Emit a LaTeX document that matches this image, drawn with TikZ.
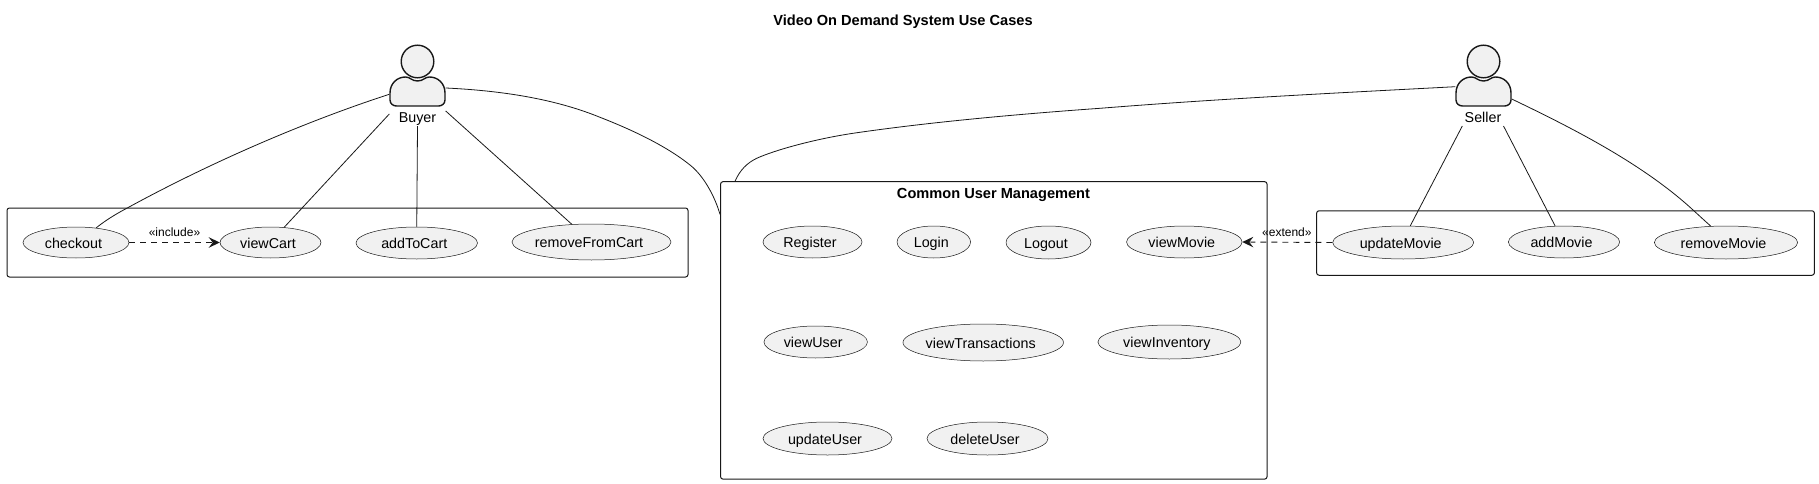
\documentclass[tikz,border=0pt]{standalone}
\usepackage{fontspec}
\setmainfont{Liberation Sans}
\usetikzlibrary{shapes.geometric,arrows.meta,calc}
\definecolor{ink}{HTML}{181818}
\definecolor{uc}{HTML}{F1F1F1}
\tikzset{
  x=1pt,y=-1pt,
  case/.style={ellipse,draw=ink,line width=0.5pt,fill=uc,inner sep=0pt,font=\fontsize{14.3}{14}\selectfont,text=black,text height=14.6pt,text depth=3pt},
  pack/.style={rectangle,draw=ink,line width=1pt,rounded corners=2.5pt,inner sep=0pt},
  holder/.style={rectangle,inner sep=0pt,minimum width=56pt,minimum height=81pt},
  link/.style={draw=ink,line width=0.8pt},
  dep/.style={draw=ink,line width=0.9pt,dash pattern=on 6pt off 5pt,-{Stealth[length=11pt,width=10.5pt,inset=4pt]}},
  tag/.style={inner sep=0pt,font=\fontsize{12}{12}\selectfont,text=black},
  caption/.style={inner sep=0pt,font=\fontsize{14.3}{14}\selectfont,text=black,text height=10pt,text depth=3pt},
  heading/.style={inner sep=0pt,font=\bfseries\fontsize{14.6}{14}\selectfont,text=black},
  actorfig/.pic={
    \draw[draw=ink,fill=uc,line width=1.4pt] (0,-54.5) circle (16.3);
    \draw[draw=ink,fill=uc,line width=1.4pt]
      (-27.5,-23) .. controls (-27.5,-33) and (-20,-39) .. (-12,-39)
      .. controls (-7,-39) and (-6,-35) .. (0,-35)
      .. controls (6,-35) and (7,-39) .. (12,-39)
      .. controls (20,-39) and (27.5,-33) .. (27.5,-23)
      -- (27.5,-16) .. controls (27.5,-12) and (24,-10) .. (21,-10)
      -- (-21,-10) .. controls (-24,-10) and (-27.5,-12) .. (-27.5,-16) -- cycle;
  }
}
\newcommand{\uc}[6]{\node[case,minimum width=#5pt,minimum height=#6pt] (#1) at (#3,#4) {\makebox[0pt]{#2\hspace*{5pt}}};}
\begin{document}
\begin{tikzpicture}
\useasboundingbox (0,0) rectangle (1819,484);
\node[heading] (title) at (903,22) {Video On Demand System Use Cases};

% packages
\node[pack,minimum width=681pt,minimum height=69pt] (leftpack) at (347.5,242.5) {};
\node[pack,minimum width=546.5pt,minimum height=297.5pt] (common) at (993.8,330.4) {};
\node[pack,minimum width=497.8pt,minimum height=64.5pt] (rightpack) at (1565.5,243) {};
\node[heading] (commontitle) at (993.5,194.5) {Common User Management};

% actors
\node[holder] (buyer) at (417.5,85.5) {};
\node[holder] (seller) at (1483.5,85.5) {};
\pic at (417.5,116) {actorfig};
\pic at (1483.5,116) {actorfig};
\node[caption] (buyerlabel) at (417.5,118.5) {Buyer};
\node[caption] (sellerlabel) at (1483,118.5) {Seller};

% use cases
\uc{checkout}{checkout}{76}{242.5}{106}{31}
\uc{viewCart}{viewCart}{270.5}{242.5}{101}{31}
\uc{addToCart}{addToCart}{416.75}{243}{121.5}{32}
\uc{removeFromCart}{removeFromCart}{591.5}{242}{159}{36}
\uc{register}{Register}{812.5}{242}{99}{32}
\uc{login}{Login}{933.8}{242}{73.5}{32}
\uc{logout}{Logout}{1048.5}{242.5}{85}{33}
\uc{viewMovie}{viewMovie}{1184.3}{242}{115.5}{32}
\uc{viewUser}{viewUser}{815.7}{342}{103.5}{32}
\uc{viewTransactions}{viewTransactions}{983.2}{342.5}{160.5}{37}
\uc{viewInventory}{viewInventory}{1169.4}{342}{143}{34}
\uc{updateUser}{updateUser}{827.5}{438.5}{129}{33}
\uc{deleteUser}{deleteUser}{987.5}{438.5}{121}{33}
\uc{updateMovie}{updateMovie}{1403.2}{242.5}{141}{33}
\uc{addMovie}{addMovie}{1564}{242}{111.2}{32}
\uc{removeMovie}{removeMovie}{1726}{242.5}{143.3}{33}

% connectors
\draw[link] ([yshift=-8.8pt]buyer.west) .. controls (310,120) and (215,160) .. (126.7,208.3) .. controls (116,214) and (106,220) .. (checkout.36);
\draw[link] ([yshift=-28.5pt]buyer.west) -- (viewCart.48);
\draw[link] (buyer.south) -- (addToCart.north);
\draw[link] ([yshift=-25.5pt]buyer.east) -- (removeFromCart.138);
\draw[link] ([yshift=-2.5pt]buyer.east) .. controls (510,91) and (560,101) .. (600,117.3) .. controls (630,129) and (665,145) .. (690,165) .. controls (704,176) and (715,197) .. ([yshift=-33.3pt]common.north west);
\draw[link] ([xshift=15pt]common.north west) .. controls (740,170) and (747,163) .. (756.7,158.3) .. controls (775,150) and (815,139) .. (853,133.3) .. controls (930,122) and (1020,114) .. (1100,108.3) .. controls (1220,98.7) and (1340,92.8) .. ([yshift=-1.2pt]seller.west);
\draw[link] ([yshift=-40.5pt,xshift=7pt]seller.west) -- (updateMovie.67);
\draw[link] ([yshift=-40.5pt,xshift=-8.2pt]seller.east) -- (addMovie.119.7);
\draw[link] ([yshift=-13.5pt]seller.east) .. controls (1570,127) and (1642,163) .. (1693,210) .. controls (1699,215.5) and (1705,221) .. (removeMovie.133.5);
\draw[dep] (checkout.east) -- (viewCart.west) node[midway,tag,above=5.5pt] (inc) {«include»};
\draw[dep] (updateMovie.west) -- (viewMovie.east) node[midway,tag,above=5.5pt,xshift=-0.5pt] (ext) {«extend»};
\end{tikzpicture}
\end{document}
